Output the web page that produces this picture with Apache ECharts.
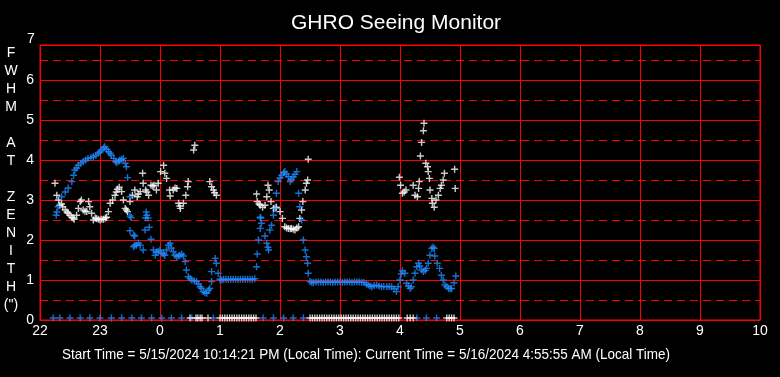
<!DOCTYPE html>
<html>
<head>
<meta charset="utf-8">
<title>GHRO Seeing Monitor</title>
<script src="https://cdn.jsdelivr.net/npm/echarts@6/dist/echarts.min.js"></script>
<style>
  html, body { margin: 0; padding: 0; background: #000; }
  #chart { width: 780px; height: 377px; }
</style>
</head>
<body>
<div id="chart"></div>
<script>
// x = hours after 22:00 local time, y = FWHM (arcsec)
var hourLabels = ['22', '23', '0', '1', '2', '3', '4', '5', '6', '7', '8', '9', '10'];

// blue seeing track
var blueSeeing = [
    [0.27, 2.62], [0.28, 2.7], [0.3, 2.83], [0.36, 3.08], [0.42, 3.2], [0.47, 3.3], [0.53, 3.46],
    [0.56, 3.62], [0.58, 3.75], [0.61, 3.8], [0.64, 3.87], [0.68, 3.92], [0.72, 3.96], [0.76, 4.0],
    [0.8, 4.04], [0.85, 4.06], [0.89, 4.08], [0.93, 4.12], [0.97, 4.17], [1.0, 4.2], [1.03, 4.25],
    [1.06, 4.3], [1.08, 4.33], [1.11, 4.27], [1.14, 4.21], [1.17, 4.17], [1.19, 4.12], [1.23, 4.04],
    [1.26, 3.96], [1.28, 3.93], [1.31, 3.97], [1.33, 4.0], [1.36, 4.02], [1.39, 4.04], [1.42, 3.92],
    [1.44, 3.83], [1.46, 3.56], [1.5, 3.08], [1.5, 2.6], [1.52, 2.56], [1.5, 2.23], [1.56, 2.12],
    [1.58, 2.1], [1.56, 1.83], [1.58, 1.87], [1.61, 1.87], [1.64, 1.92], [1.67, 1.87], [1.72, 1.75],
    [1.75, 2.25], [1.77, 2.7], [1.78, 2.62], [1.76, 2.55], [1.8, 2.55], [1.82, 2.32], [1.85, 2.02],
    [1.89, 1.75], [1.92, 1.62], [1.94, 1.7], [1.97, 1.71], [2.0, 1.75], [2.03, 1.67], [2.06, 1.65],
    [2.08, 1.62], [2.11, 1.75], [2.14, 1.87], [2.17, 1.92], [2.19, 1.8], [2.22, 1.71], [2.25, 1.62],
    [2.28, 1.58], [2.31, 1.6], [2.33, 1.62], [2.36, 1.65], [2.39, 1.6], [2.42, 1.46], [2.44, 1.25],
    [2.47, 1.08], [2.5, 1.04], [2.53, 1.0], [2.57, 0.98], [2.61, 0.96], [2.64, 0.9], [2.67, 0.83],
    [2.69, 0.79], [2.72, 0.71], [2.75, 0.68], [2.78, 0.67], [2.81, 0.75], [2.83, 0.79], [2.86, 0.96],
    [2.86, 1.21], [2.92, 1.54], [2.94, 1.42], [2.97, 1.17], [3.0, 1.02], [3.03, 1.0], [3.06, 1.02],
    [3.1, 1.02], [3.14, 1.01], [3.18, 1.02], [3.22, 1.02], [3.26, 1.02], [3.3, 1.01], [3.34, 1.02],
    [3.38, 1.02], [3.42, 1.02], [3.46, 1.02], [3.5, 1.02], [3.54, 1.02], [3.58, 1.03], [3.61, 1.33],
    [3.62, 1.65], [3.64, 2.0], [3.67, 2.29], [3.69, 2.42], [3.67, 2.57], [3.68, 2.55], [3.75, 2.1],
    [3.78, 1.92], [3.81, 1.75], [3.8, 1.82], [3.83, 2.25], [3.86, 2.37], [3.89, 2.62], [3.92, 2.79],
    [3.94, 3.17], [3.97, 3.46], [4.0, 3.55], [4.03, 3.62], [4.06, 3.68], [4.08, 3.71], [4.11, 3.65],
    [4.14, 3.58], [4.17, 3.46], [4.19, 3.52], [4.22, 3.58], [4.25, 3.64], [4.28, 3.71], [4.31, 3.17],
    [4.33, 2.83], [4.36, 2.5], [4.39, 2.0], [4.42, 1.75], [4.44, 1.58], [4.46, 1.42], [4.47, 1.17],
    [4.5, 0.96], [4.53, 0.94], [4.56, 0.93], [4.6, 0.95], [4.64, 0.95], [4.68, 0.95], [4.72, 0.94],
    [4.76, 0.95], [4.8, 0.95], [4.84, 0.95], [4.88, 0.94], [4.92, 0.95], [4.96, 0.95], [5.0, 0.95],
    [5.04, 0.94], [5.08, 0.95], [5.12, 0.95], [5.16, 0.95], [5.2, 0.94], [5.24, 0.95], [5.28, 0.95],
    [5.32, 0.95], [5.36, 0.94], [5.4, 0.94], [5.44, 0.9], [5.47, 0.875], [5.5, 0.85], [5.53, 0.83],
    [5.57, 0.86], [5.61, 0.875], [5.65, 0.85], [5.69, 0.83], [5.73, 0.84], [5.78, 0.83], [5.82, 0.84],
    [5.86, 0.83], [5.9, 0.78], [5.94, 0.71], [5.97, 0.83], [6.0, 1.0], [6.02, 1.15], [6.04, 1.23],
    [6.08, 1.17], [6.11, 0.92], [6.14, 0.85], [6.17, 0.79], [6.19, 0.83], [6.22, 1.0], [6.25, 1.17],
    [6.28, 1.33], [6.31, 1.42], [6.33, 1.35], [6.36, 1.25], [6.39, 1.21], [6.42, 1.24], [6.44, 1.29],
    [6.47, 1.42], [6.5, 1.62], [6.53, 1.79], [6.55, 1.82], [6.57, 1.79], [6.58, 1.6], [6.62, 1.42],
    [6.66, 1.29], [6.69, 1.12], [6.72, 1.0], [6.75, 0.875], [6.78, 0.83], [6.81, 0.79], [6.84, 0.78],
    [6.86, 0.79], [6.9, 0.93], [6.93, 1.1]
];

// white seeing track
var whiteSeeing = [
    [0.25, 3.42], [0.28, 3.12], [0.31, 3.0], [0.33, 2.87], [0.36, 2.9], [0.38, 2.83], [0.42, 2.75],
    [0.45, 2.7], [0.47, 2.67], [0.5, 2.62], [0.53, 2.57], [0.55, 2.55], [0.57, 2.52], [0.61, 2.62],
    [0.64, 2.79], [0.67, 2.96], [0.69, 3.0], [0.72, 2.75], [0.75, 2.72], [0.78, 2.71], [0.81, 2.96],
    [0.83, 2.83], [0.86, 2.67], [0.89, 2.5], [0.92, 2.55], [0.94, 2.54], [0.97, 2.52], [1.0, 2.5],
    [1.03, 2.52], [1.06, 2.52], [1.09, 2.55], [1.11, 2.57], [1.14, 2.71], [1.17, 2.92], [1.21, 3.0],
    [1.25, 3.12], [1.27, 3.2], [1.29, 3.27], [1.32, 3.32], [1.36, 3.21], [1.39, 3.0], [1.42, 2.79],
    [1.44, 2.75], [1.46, 2.71], [1.5, 2.96], [1.54, 3.12], [1.58, 3.25], [1.62, 3.08], [1.64, 3.15],
    [1.67, 3.21], [1.71, 3.67], [1.72, 3.42], [1.76, 3.25], [1.78, 3.2], [1.81, 3.12], [1.85, 3.37],
    [1.88, 3.35], [1.9, 3.37], [1.94, 3.25], [1.97, 3.42], [2.01, 3.71], [2.06, 3.87], [2.08, 3.67],
    [2.11, 3.54], [2.16, 3.25], [2.17, 3.1], [2.22, 3.25], [2.25, 3.3], [2.28, 3.29], [2.31, 2.92],
    [2.33, 2.85], [2.34, 2.79], [2.39, 2.92], [2.43, 3.12], [2.46, 3.33], [2.47, 3.46], [2.56, 4.25],
    [2.58, 4.37], [2.83, 3.46], [2.86, 3.33], [2.89, 3.25], [2.91, 3.18], [2.94, 3.12], [3.61, 3.15],
    [3.62, 2.96], [3.65, 2.9], [3.67, 2.87], [3.71, 2.82], [3.75, 2.87], [3.78, 3.08], [3.8, 3.37],
    [3.82, 3.25], [3.85, 2.96], [3.89, 2.79], [3.92, 2.8], [3.94, 2.82], [4.0, 2.71], [4.04, 2.54],
    [4.08, 2.33], [4.11, 2.3], [4.14, 2.29], [4.17, 2.28], [4.19, 2.29], [4.22, 2.27], [4.25, 2.25],
    [4.28, 2.3], [4.31, 2.33], [4.33, 2.54], [4.36, 2.75], [4.38, 2.96], [4.42, 3.25], [4.44, 3.42],
    [4.46, 3.5], [4.47, 4.02], [5.99, 3.57], [6.01, 3.37], [6.04, 3.17], [6.07, 3.2], [6.1, 3.25],
    [6.22, 3.37], [6.25, 3.12], [6.29, 3.08], [6.31, 3.29], [6.32, 3.46], [6.34, 4.1], [6.36, 4.44],
    [6.39, 4.73], [6.4, 4.92], [6.43, 3.92], [6.46, 3.83], [6.47, 3.71], [6.49, 3.54], [6.5, 3.25],
    [6.53, 3.04], [6.54, 2.92], [6.57, 2.82], [6.6, 3.0], [6.64, 3.12], [6.67, 3.29], [6.69, 3.37],
    [6.72, 3.5], [6.74, 3.67], [6.91, 3.77], [6.92, 3.29]
];

// readings logged at the floor (hours); they sit just above the axis
var floorValue = 0.05;
var blueZeroHours = [0.22, 0.33, 0.5, 0.67, 0.83, 1.0, 1.19, 1.36, 1.53, 1.69, 1.86, 2.03, 2.19,
    2.36, 2.53, 2.89, 3.72, 3.89, 4.06, 4.22, 4.39, 6.28, 6.44, 6.61];
var whiteZeroHours = [2.5, 2.6, 2.63, 2.67, 2.7, 2.8, 3.0, 3.04, 3.08, 3.12, 3.16, 3.2, 3.24, 3.28,
    3.32, 3.36, 3.4, 3.44, 3.48, 3.52, 3.56, 3.6, 4.5, 4.54, 4.58, 4.62, 4.66, 4.7, 4.74, 4.78, 4.82,
    4.86, 4.9, 4.94, 4.98, 5.02, 5.06, 5.1, 5.14, 5.18, 5.22, 5.26, 5.3, 5.34, 5.38, 5.42, 5.46,
    5.5, 5.54, 5.58, 5.62, 5.66, 5.7, 5.74, 5.78, 5.82, 5.86, 5.9, 5.94, 5.98, 6.12, 6.17, 6.22,
    6.78, 6.82, 6.86, 6.9];

var plus = 'path://M2.8,0H4.2V7H2.8ZM0,2.8H7V4.2H0Z';
var blueColor = '#1e8cff';
var font = 'Liberation Sans, Arial, sans-serif';

function floorPoints(hours) {
    return hours.map(function (h) { return [h, floorValue]; });
}

var mchart = echarts.init(document.getElementById('chart'));

var option = {
    backgroundColor: '#000',
    animation: false,
    textStyle: { fontFamily: font },
    title: {
        text: 'GHRO Seeing Monitor',
        left: 286,
        top: 8,
        textStyle: { color: '#fff', fontSize: 21, fontWeight: 'normal' }
    },
    grid: {
        left: 40, right: 20, top: 45, bottom: 57,
        show: true, borderColor: '#ff0000', borderWidth: 1, backgroundColor: '#000'
    },
    xAxis: {
        type: 'value',
        min: 0, max: 12, interval: 1,
        axisLine: { lineStyle: { color: '#ff0000' } },
        axisTick: { show: false },
        axisLabel: {
            color: '#fff', fontSize: 14, margin: 4,
            formatter: function (v) { return hourLabels[v]; }
        },
        splitLine: { show: true, lineStyle: { color: '#ff0000', width: 1 } }
    },
    yAxis: [{
        type: 'value',
        min: 0, max: 6.875, interval: 1,
        axisLine: { show: false },
        axisTick: { show: false },
        axisLabel: {
            color: '#fff', fontSize: 14, margin: 6,
            formatter: function (v) { return v % 1 === 0 ? String(v) : ''; }
        },
        splitLine: { show: true, lineStyle: { color: '#ff0000', width: 1 } }
    }, {
        type: 'value',
        min: 0, max: 6.875, interval: 0.5,
        position: 'left',
        axisLine: { show: false },
        axisTick: { show: false },
        axisLabel: { show: false },
        splitLine: { show: true, lineStyle: { color: '#ff0000', width: 1, type: [8, 5] } }
    }],
    graphic: [{
        type: 'text', left: 27, top: 32,
        style: { text: '7', fill: '#fff', font: '14px ' + font }
    }, {
        type: 'text', x: 11, y: 44,
        style: {
            text: 'F\nW\nH\nM\n\nA\nT\n\nZ\nE\nN\nI\nT\nH\n(")',
            fill: '#fff', align: 'center', lineHeight: 18,
            font: '14px ' + font
        }
    }, {
        type: 'text', x: 366, y: 355, scaleY: 1.12,
        style: {
            text: 'Start Time = 5/15/2024 10:14:21 PM (Local Time): Current Time = 5/16/2024 4:55:55 AM (Local Time)',
            fill: '#fff', align: 'center', verticalAlign: 'middle',
            font: '13.5px ' + font
        }
    }],
    series: [{
        type: 'scatter', name: 'white', data: whiteSeeing,
        symbol: plus, symbolSize: 7, itemStyle: { color: '#fff' }
    }, {
        type: 'scatter', name: 'blue', data: blueSeeing,
        symbol: plus, symbolSize: 7, itemStyle: { color: blueColor }
    }, {
        type: 'scatter', name: 'blue floor', data: floorPoints(blueZeroHours),
        symbol: plus, symbolSize: 7, itemStyle: { color: blueColor }
    }, {
        type: 'scatter', name: 'white floor', data: floorPoints(whiteZeroHours),
        symbol: plus, symbolSize: 7, itemStyle: { color: '#fff' }
    }]
};

mchart.setOption(option, true);
</script>
</body>
</html>
